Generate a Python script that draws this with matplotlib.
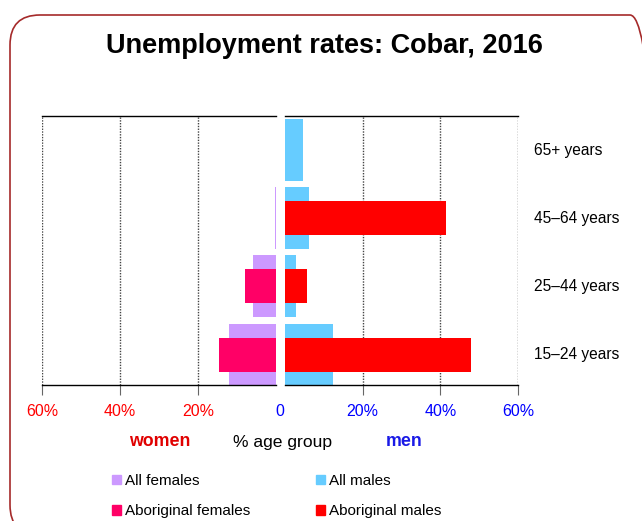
import matplotlib
matplotlib.use("Agg")
import matplotlib.pyplot as plt
from matplotlib.patches import Patch, FancyBboxPatch

plt.rcParams["font.family"] = ["Liberation Sans", "DejaVu Sans"]

# data (percent unemployed)
age_groups = ["15–24 years", "25–44 years", "45–64 years", "65+ years"]
all_females = [12.1, 5.9, 0.3, 0.0]
aboriginal_females = [14.6, 7.9, 0.0, 0.0]
all_males = [12.4, 2.8, 6.2, 4.7]
aboriginal_males = [47.9, 5.7, 41.5, 0.0]

left_ticks = [60, 40, 20]
right_ticks = [20, 40, 60]

c_all_f = "#CC99FF"
c_abo_f = "#FF0066"
c_all_m = "#66CCFF"
c_abo_m = "#FF0000"

W, H = 642, 521
fig = plt.figure(figsize=(W / 100, H / 100), dpi=100)

# rounded frame, running off the right and bottom edges
frame = FancyBboxPatch((0.10, -0.14), 6.50, 5.20, boxstyle="round,pad=0,rounding_size=0.30",
                       transform=fig.dpi_scale_trans, fill=False, edgecolor="#A52A2A",
                       linewidth=1.2)
fig.patches.append(frame)

fig.text(324 / W, 1 - 46 / H, "Unemployment rates: Cobar, 2016", ha="center", va="center",
         fontsize=19.5, fontweight="bold")

bottom = 1 - 385 / H
height = (385 - 116) / H
axl = fig.add_axes([42 / W, bottom, (276 - 42) / W, height])
axr = fig.add_axes([285 / W, bottom, (518 - 285) / W, height])

ypos = list(range(len(age_groups)))

axl.barh(ypos, all_females, height=0.91, color=c_all_f, zorder=2)
axl.barh(ypos, aboriginal_females, height=0.5, color=c_abo_f, zorder=3)
axr.barh(ypos, all_males, height=0.91, color=c_all_m, zorder=2)
axr.barh(ypos, aboriginal_males, height=0.5, color=c_abo_m, zorder=3)

axl.set_xlim(60, 0)
axr.set_xlim(0, 60)
for ax, ticks, col in [(axl, left_ticks, "red"), (axr, right_ticks, "blue")]:
    ax.set_ylim(-0.446, 3.5)
    ax.set_yticks([])
    ax.set_xticks(ticks)
    ax.set_xticklabels([f"{t}%" for t in ticks], color=col, fontsize=11.5)
    ax.tick_params(axis="x", direction="out", length=7, width=0.8, pad=7, colors="#666666",
                   labelcolor=col)
    ax.grid(axis="x", linestyle=(0, (1, 1)), color="#444444", linewidth=1.0, zorder=1)
    for s in ["left", "right"]:
        ax.spines[s].set_visible(False)
    for s in ["top", "bottom"]:
        ax.spines[s].set_color("black")
        ax.spines[s].set_linewidth(1.0)

for y, lab in zip(ypos, age_groups):
    axr.text(1.068, y, lab, transform=axr.get_yaxis_transform(), ha="left", va="center",
             fontsize=11.2)

fig.text(280 / W, 1 - 412 / H, "0", color="blue", ha="center", va="center", fontsize=11.5)
fig.text(160 / W, 1 - 442 / H, "women", color="#E00000", fontweight="bold", ha="center",
         va="center", fontsize=12.8)
fig.text(283 / W, 1 - 442 / H, "% age group", color="black", ha="center", va="center",
         fontsize=12.6)
fig.text(404 / W, 1 - 442 / H, "men", color="#1A1AE6", fontweight="bold", ha="center",
         va="center", fontsize=12.8)

handles = [Patch(color=c_all_f, label="All females"),
           Patch(color=c_abo_f, label="Aboriginal females"),
           Patch(color=c_all_m, label="All males"),
           Patch(color=c_abo_m, label="Aboriginal males")]
fig.legend(handles=handles, ncol=2, loc="upper left", bbox_to_anchor=(112 / W, 1 - 474 / H),
           frameon=False, fontsize=11, handlelength=0.6, handleheight=0.6,
           handletextpad=0.25, columnspacing=4.3, labelspacing=1.05, borderpad=0,
           borderaxespad=0)

fig.savefig("out.png", dpi=100)
